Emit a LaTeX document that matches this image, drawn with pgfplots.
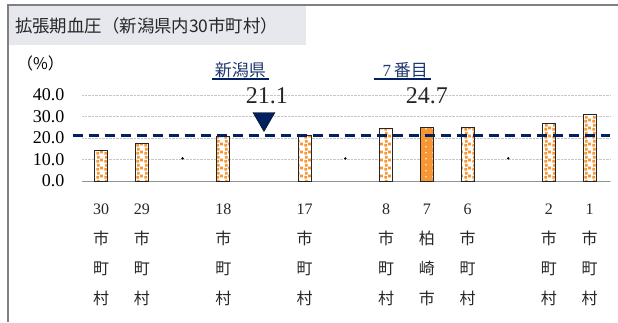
\documentclass[border=0pt]{standalone}
\usepackage{fontspec}
\setmainfont{Liberation Serif}
\newfontfamily\cjk{Noto Sans CJK JP}
\usepackage{pgfplots}
\pgfplotsset{compat=1.18}
\usetikzlibrary{patterns}
\definecolor{navyl}{RGB}{0,32,96}
\definecolor{navyt}{RGB}{31,56,110}
\definecolor{orng}{RGB}{247,150,50}
\definecolor{titlebg}{RGB}{230,232,238}
\definecolor{framegray}{RGB}{128,128,128}
\pgfdeclarepatternformonly{osq}{\pgfpointorigin}{\pgfpoint{8pt}{8pt}}{\pgfpoint{8pt}{8pt}}{%
 \pgfpathrectangle{\pgfpoint{0.4pt}{0.4pt}}{\pgfpoint{3pt}{3pt}}%
 \pgfpathrectangle{\pgfpoint{4.6pt}{1.9pt}}{\pgfpoint{3pt}{3pt}}%
 \pgfpathrectangle{\pgfpoint{1.2pt}{4.8pt}}{\pgfpoint{3pt}{3pt}}%
 \pgfusepath{fill}}
\pgfdeclarepatternformonly{wdots}{\pgfpointorigin}{\pgfpoint{6.5pt}{6pt}}{\pgfpoint{6.5pt}{6pt}}{%
 \pgfpathrectangle{\pgfpoint{2.5pt}{2pt}}{\pgfpoint{1.4pt}{1.4pt}}%
 \pgfusepath{fill}}
\newcommand{\lab}[4]{#1\\{\cjk #2}\\{\cjk #3}\\{\cjk #4}}
\begin{document}
\begin{tikzpicture}[x=1pt,y=1pt]
\path[use as bounding box] (0,0) rectangle (618,322);
\draw[framegray, line width=1.5pt] (8,0) -- (8,317) -- (618,317);
\fill[titlebg] (9,277) rectangle (306,316);
\node[anchor=west, font=\cjk\fontsize{17.4}{17.4}\selectfont, text=black!85, inner sep=0pt] at (15,296) {拡張期血圧（新潟県内30市町村）};
\node[anchor=east, font=\cjk\fontsize{16}{16}\selectfont, inner sep=0pt] at (64,259) {（\%）};
\begin{axis}[
  at={(82pt,141pt)}, anchor=south west,
  scale only axis, width=528pt, height=86pt,
  xmin=-0.47, xmax=12.5, ymin=0, ymax=40,
  clip=false,
  axis x line*=bottom, axis y line*=left,
  x axis line style={draw=gray!85, line width=1pt, -},
  y axis line style={draw=none},
  major tick length=0pt,
  ytick={0,10,20,30,40},
  yticklabel={\pgfmathprintnumber[fixed,fixed zerofill,precision=1,assume math mode=true]{\tick}},
  yticklabel style={font=\fontsize{18}{18}\selectfont, xshift=-14pt},
  ymajorgrids, major grid style={densely dotted, gray!45, line width=0.8pt},
  xtick={0,1,3,5,7,8,9,11,12},
  xticklabels={\lab{30}{市}{町}{村},\lab{29}{市}{町}{村},\lab{18}{市}{町}{村},\lab{17}{市}{町}{村},\lab{8}{市}{町}{村},\lab{7}{柏}{崎}{市},\lab{6}{市}{町}{村},\lab{2}{市}{町}{村},\lab{1}{市}{町}{村}},
  xticklabel style={align=center, font=\fontsize{16}{30}\selectfont, anchor=north, yshift=-19pt, text=black!85},
]
\addplot[ybar, bar width=13pt, bar shift=0pt, draw=black!85, line width=0.9pt,
  preaction={fill=white}, pattern=osq, pattern color=orng]
  coordinates {(0,14.1) (1,17.5) (3,20.9) (5,21.4) (7,24.3) (9,24.8) (11,26.8) (12,31.0)};
\addplot[ybar, bar width=13pt, bar shift=0pt, draw=black!85, line width=0.9pt,
  preaction={fill=orng}, pattern=wdots, pattern color=white]
  coordinates {(8,24.7)};
\addplot[only marks, mark=*, mark size=1pt, black] coordinates {(2,10.5) (6,10.5) (10,10.5)};
\addplot[navyl, line width=2.5pt, dash pattern=on 10pt off 6pt] coordinates {(-0.7,21.1) (12.5,21.1)};
\addplot[only marks, mark=triangle*, mark size=12.7pt, mark options={rotate=180, fill=navyl, draw=none}] coordinates {(4,28.9)};
\node[font=\cjk\fontsize{17}{17}\selectfont, text=navyt] at (axis cs:3.42,51.6) {新潟県};
\draw[navyl, line width=1.3pt] (axis cs:2.73,47.4) -- (axis cs:4.13,47.4);
\node[font=\fontsize{24}{24}\selectfont, text=black!85] at (axis cs:4.07,39.5) {21.1};
\node[font=\fontsize{17}{17}\selectfont, text=navyt] at (axis cs:7.47,51.6) {7\,{\cjk 番目}};
\draw[navyl, line width=1.3pt] (axis cs:6.71,47.4) -- (axis cs:8.11,47.4);
\node[font=\fontsize{24}{24}\selectfont, text=black!85] at (axis cs:8.0,39.5) {24.7};
\end{axis}
\end{tikzpicture}
\end{document}
